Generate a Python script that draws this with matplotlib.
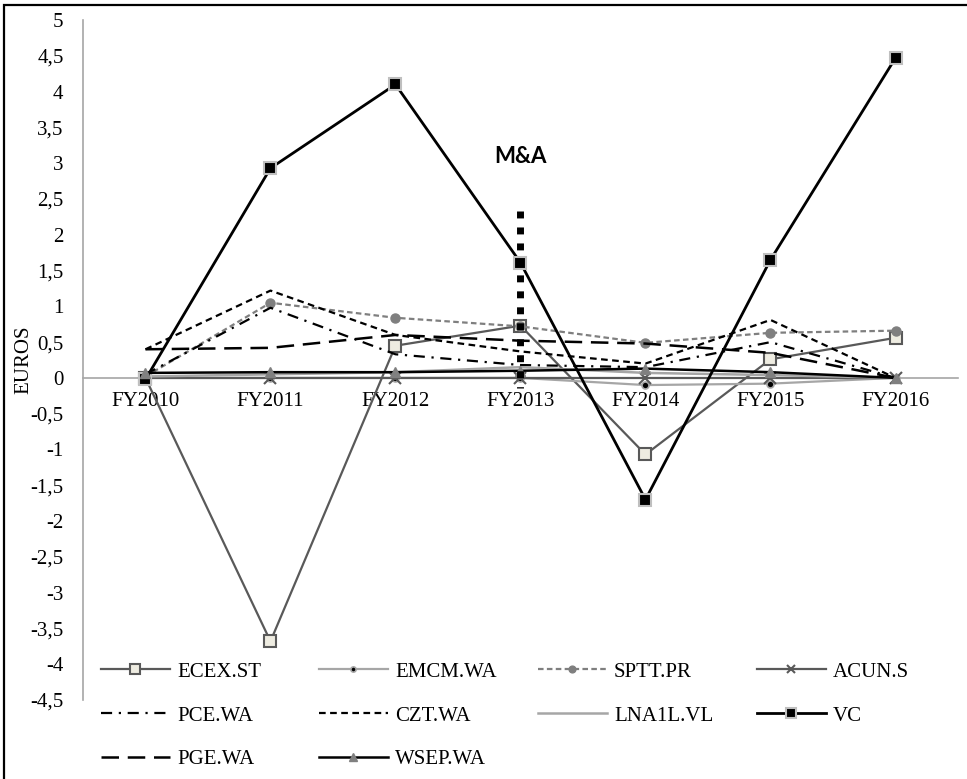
import numpy as np
import matplotlib
matplotlib.use('Agg')
import matplotlib.pyplot as plt
from matplotlib.patches import Rectangle

years = ['FY2010', 'FY2011', 'FY2012', 'FY2013', 'FY2014', 'FY2015', 'FY2016']

ecex_st = [0.0, -3.68, 0.45, 0.73, -1.07, 0.26, 0.56]
emcm_wa = [0.0, 0.0, 0.0, 0.0, -0.1, -0.08, 0.0]
sptt_pr = [0.02, 1.05, 0.84, 0.72, 0.49, 0.63, 0.66]
acun_s = [0.0, 0.0, 0.0, 0.0, 0.0, 0.0, 0.0]
pce_wa = [0.05, 0.98, 0.33, 0.18, 0.15, 0.5, 0.0]
czt_wa = [0.4, 1.22, 0.6, 0.37, 0.2, 0.81, 0.0]
lna1l_vl = [0.02, 0.05, 0.08, 0.15, 0.07, 0.04, 0.0]
vc = [-0.02, 2.93, 4.1, 1.61, -1.7, 1.65, 4.47]
pge_wa = [0.4, 0.42, 0.6, 0.52, 0.48, 0.35, 0.0]
wsep_wa = [0.07, 0.08, 0.08, 0.1, 0.13, 0.08, 0.0]

# M&A marker line at FY2013
ma_year = 'FY2013'
ma_low, ma_high = -0.14, 2.33
ma_text_y = 3.1

plt.rcParams['font.family'] = ['Liberation Serif', 'DejaVu Serif']
plt.rcParams['font.size'] = 15

fig = plt.figure(figsize=(9.67, 7.79), dpi=100)
ax = fig.add_axes([0.0858, 0.1014, 0.9049, 0.8729])
x = np.arange(len(years))

h = {}
h['ECEX.ST'], = ax.plot(x, ecex_st, color='#595959', lw=1.6, marker='s', ms=9,
                        mfc='#eeece1', mec='#595959', mew=1.5, zorder=3)
h['EMCM.WA'], = ax.plot(x, emcm_wa, color='#a6a6a6', lw=1.6, marker='o', ms=5,
                        mfc='black', mec='#a6a6a6', mew=1.2, zorder=3)
h['SPTT.PR'], = ax.plot(x, sptt_pr, color='#7f7f7f', lw=1.6, ls=(0, (2.5, 1.5)),
                        marker='o', ms=6.5, mfc='#7f7f7f', mec='#7f7f7f', zorder=3)
h['ACUN.S'], = ax.plot(x, acun_s, color='#595959', lw=1.6, marker='x', ms=8,
                       mew=1.5, zorder=3)
h['PCE.WA'], = ax.plot(x, pce_wa, color='black', lw=1.6, ls=(0, (5, 3, 1, 3)), zorder=3)
h['CZT.WA'], = ax.plot(x, czt_wa, color='black', lw=1.6, ls=(0, (3, 2)), zorder=3)
h['LNA1L.VL'], = ax.plot(x, lna1l_vl, color='#a6a6a6', lw=1.8, zorder=3)
h['VC'], = ax.plot(x, vc, color='black', lw=2, marker='s', ms=9,
                   mfc='black', mec='#bfbfbf', mew=1.5, zorder=3)
h['PGE.WA'], = ax.plot(x, pge_wa, color='black', lw=1.8, ls=(0, (7, 3.5)), zorder=3)
h['WSEP.WA'], = ax.plot(x, wsep_wa, color='black', lw=1.8, marker='^', ms=7,
                        mfc='#808080', mec='#808080', zorder=3)

# M&A vertical dotted bar, drawn top-down so the first dot sits at the top
xm = years.index(ma_year)
ax.plot([xm, xm], [ma_high, ma_low], color='black', lw=5, ls=(0, (1, 1.3)),
        solid_capstyle='butt', dash_capstyle='butt', zorder=4)
ax.text(xm, ma_text_y, 'M&A', ha='center', va='center', fontsize=16,
        fontweight='bold', family=['Lato', 'DejaVu Sans'])

ax.set_xlim(-0.5, len(years) - 0.5)
ax.set_ylim(-4.5, 5)
ax.set_xticks(x)
ax.set_xticklabels(years)
yt = np.arange(-4.5, 5.01, 0.5)
ax.set_yticks(yt)
ax.set_yticklabels([('%g' % v).replace('.', ',') for v in yt])
ax.tick_params(axis='both', length=0)
ax.tick_params(axis='y', pad=14)
ax.tick_params(axis='x', pad=10)
ax.set_ylabel('EUROS')
ax.yaxis.set_label_coords(-0.057, 0.5)

for s in ['top', 'right']:
    ax.spines[s].set_visible(False)
ax.spines['bottom'].set_position(('data', 0))
ax.spines['bottom'].set_color('#a6a6a6')
ax.spines['left'].set_color('#a6a6a6')
ax.spines['bottom'].set_linewidth(1.2)
ax.spines['left'].set_linewidth(1.2)
ax.spines['bottom'].set_zorder(1)

# legend: four columns, filled row by row
names = list(h.keys())
col_x = [101, 319, 538, 757]
for c in range(4):
    sub = names[c::4]
    fig.legend([h[n] for n in sub], sub, loc='upper left',
               bbox_to_anchor=(col_x[c] / 967, 1 - 662 / 779),
               frameon=False, borderpad=0, borderaxespad=0, markerscale=0.75,
               handlelength=3.3, handletextpad=0.35, labelspacing=1.17,
               fontsize=15)

fig.patches.append(Rectangle((4 / 967, -0.1), 1.2, 1.1 - 5 / 779, fill=False,
                             lw=1.6, ec='black', transform=fig.transFigure))

fig.savefig('out.png', dpi=100)
